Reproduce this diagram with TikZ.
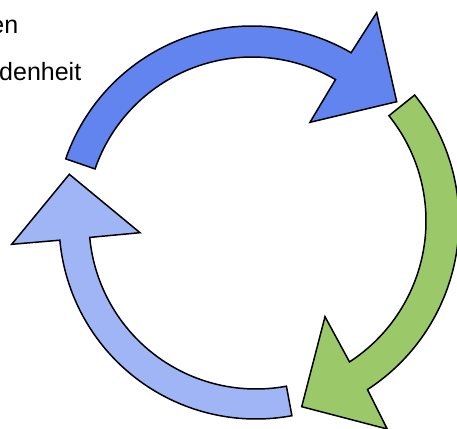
\documentclass[tikz,border=0pt]{standalone}
\usepackage{fontspec}
\setmainfont{Liberation Sans}
\usetikzlibrary{calc}
\definecolor{blueA}{RGB}{98,132,239}
\definecolor{blueL}{RGB}{160,181,246}
\definecolor{greenA}{RGB}{155,201,106}
\tikzset{
  arrowshape/.style={draw=black, line width=1.5pt, line join=miter, miter limit=20},
  label/.style={inner sep=0pt, font=\fontsize{25}{30}\selectfont}
}
\begin{document}
\begin{tikzpicture}[x=1pt,y=1pt]
\useasboundingbox (0,0) rectangle (457,428);
\coordinate (Cb) at (252,205);
\coordinate (Cg) at (258,207);
\coordinate (Cl) at (256,206);
% text (cut off at left)
\node[label, anchor=base east] (t1) at (18.4,394) {en};
\node[label, anchor=base west] (t2) at (-1,347.3) {denheit};
% blue arrow (top)
\draw[arrowshape, fill=blueA]
  ($(Cb)+(161:197)$) arc[start angle=161, end angle=59.8, radius=197]
  -- (376.7,415.3) -- (396.7,326.3) -- (310,305.7)
  -- ($(Cb)+(59.8:166)$) arc[start angle=59.8, end angle=161, radius=166]
  -- cycle;
% green arrow (right)
\draw[arrowshape, fill=greenA]
  ($(Cg)+(38.8:201)$) arc[start angle=38.8, end angle=-57, radius=201]
  -- (387.2,-1) -- (301.7,21.3) -- (325,111.3)
  -- ($(Cg)+(-57:168)$) arc[start angle=-57, end angle=38.8, radius=168]
  -- cycle;
% light blue arrow (left)
\draw[arrowshape, fill=blueL]
  ($(Cl)+(280.5:197)$) arc[start angle=280.5, end angle=185.3, radius=197]
  -- (11.7,183.7) -- (69.3,253.7) -- (140,195.3)
  -- ($(Cl)+(185.3:167)$) arc[start angle=185.3, end angle=280.5, radius=167]
  -- cycle;
\end{tikzpicture}
\end{document}
